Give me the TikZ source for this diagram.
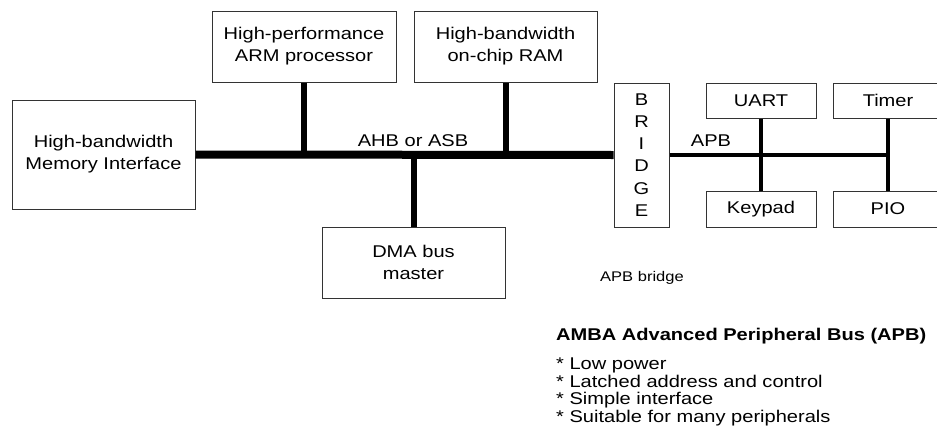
\documentclass[tikz,border=0pt]{standalone}
\usepackage{fontspec}
\setmainfont[FakeStretch=1.18]{Liberation Sans}
\usepackage{tikz}
\newcommand\notefont{\fontsize{17}{17.7}\selectfont\lineskiplimit=-20pt\relax}

\begin{document}
\begin{tikzpicture}[x=1pt,y=-1pt,
  unit/.style={draw=black!80,line width=1pt,inner sep=0pt,align=center,
    font=\fontsize{17}{22}\selectfont},
  ahbline/.style={line width=8pt},
  ahbstub/.style={line width=6pt},
  apbline/.style={line width=4pt}]
  \useasboundingbox (0,0) rectangle (937,442);
  % AHB side
  \node[unit,minimum width=183pt,minimum height=109pt] (mem) at (103.5,154.5) {High-bandwidth\\Memory Interface};
  \node[unit,minimum width=184pt,minimum height=71pt] (arm) at (304,46.5) {High-performance\\ARM processor};
  \node[unit,minimum width=183pt,minimum height=71pt] (ram) at (505.5,46.5) {High-bandwidth\\on-chip RAM};
  \node[unit,minimum width=183pt,minimum height=71pt] (dma) at (413.5,262.5) {DMA bus\\master};
  \node[unit,minimum width=55pt,minimum height=144pt,font=\fontsize{17}{22.2}\selectfont] (bridge) at (641.5,155) {B\\R\\I\\D\\G\\E};
  \draw[ahbline] (mem.east) -- (bridge.west);
  \draw[ahbstub] (arm.south) -- (arm.south |- mem.east);
  \draw[ahbstub] (ram.south) -- (ram.south |- mem.east);
  \draw[ahbstub] (dma.north) -- (dma.north |- mem.east);
  \node[font=\fontsize{17}{22}\selectfont,anchor=base] (ahb) at (413,146) {AHB or ASB};
  % APB side
  \node[unit,minimum width=110pt,minimum height=35pt] (uart) at (761,100.5) {UART};
  \node[unit,minimum width=110pt,minimum height=36pt] (keypad) at (761,209) {Keypad};
  \node[unit,minimum width=110pt,minimum height=35pt] (timer) at (888,100.5) {Timer};
  \node[unit,minimum width=110pt,minimum height=36pt] (pio) at (888,209) {PIO};
  \draw[apbline] (bridge.east) -- (bridge.east -| timer.south);
  \draw[apbline] (uart.south) -- (keypad.north);
  \draw[apbline] (timer.south) -- (pio.north);
  \node[font=\fontsize{17}{22}\selectfont,anchor=base] (apb) at (711,146) {APB};
  \node[font=\fontsize{14}{16}\selectfont,anchor=base west,inner sep=0pt] (bridgenote) at (600,281) {APB bridge};
  % notes
  \node[font=\fontsize{17}{22}\selectfont\bfseries,anchor=base west,inner sep=0pt] (title) at (556,340) {AMBA Advanced Peripheral Bus (APB)};
  \node[font=\notefont,anchor=north west,inner sep=0pt,align=left] (points) at (556,357.5)
    {* Low power\\* Latched address and control\\* Simple interface\\* Suitable for many peripherals};
\end{tikzpicture}
\end{document}
